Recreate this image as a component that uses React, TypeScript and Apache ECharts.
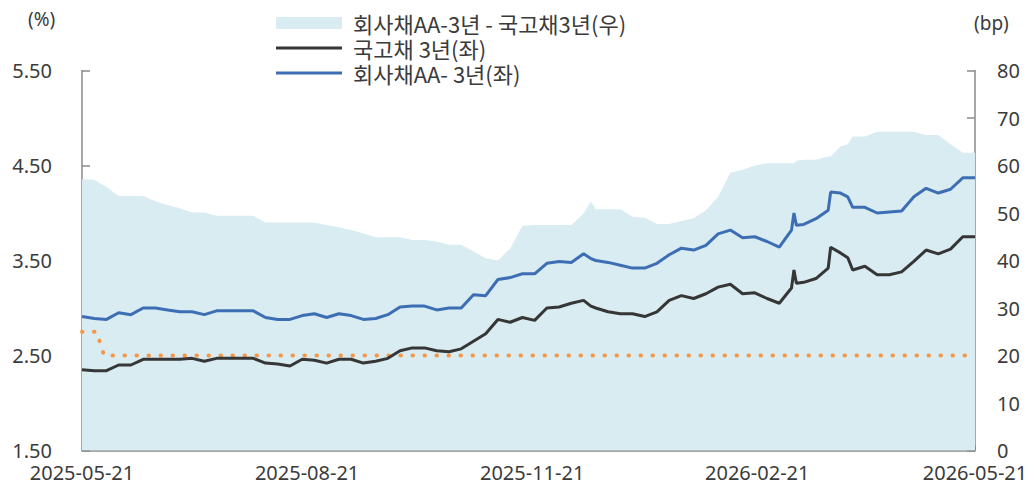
import React, { useEffect, useRef } from "react";
import * as echarts from "echarts";

// ---- data ----
const dates = [
  "2025-05-21", "2025-05-26", "2025-05-31", "2025-06-05", "2025-06-10", "2025-06-15", "2025-06-20", "2025-06-25",
  "2025-06-30", "2025-07-05", "2025-07-10", "2025-07-15", "2025-07-20", "2025-07-25", "2025-07-30", "2025-08-04",
  "2025-08-09", "2025-08-14", "2025-08-19", "2025-08-24", "2025-08-29", "2025-09-03", "2025-09-08", "2025-09-13",
  "2025-09-18", "2025-09-23", "2025-09-28", "2025-10-03", "2025-10-08", "2025-10-13", "2025-10-18", "2025-10-23",
  "2025-10-28", "2025-11-02", "2025-11-07", "2025-11-12", "2025-11-17", "2025-11-22", "2025-11-27", "2025-12-02",
  "2025-12-07", "2025-12-12", "2025-12-15", "2025-12-17", "2025-12-22", "2025-12-27", "2026-01-01", "2026-01-06",
  "2026-01-11", "2026-01-16", "2026-01-21", "2026-01-26", "2026-01-31", "2026-02-05", "2026-02-10", "2026-02-15",
  "2026-02-20", "2026-02-25", "2026-03-02", "2026-03-07", "2026-03-08", "2026-03-09", "2026-03-12", "2026-03-17",
  "2026-03-22", "2026-03-23", "2026-03-27", "2026-03-30", "2026-04-01", "2026-04-06", "2026-04-11", "2026-04-16",
  "2026-04-21", "2026-04-26", "2026-05-01", "2026-05-06", "2026-05-11", "2026-05-16", "2026-05-21",
];

// 국고채 3년 (%)
const ktb3y = [
  2.35, 2.34, 2.34, 2.40, 2.40, 2.46, 2.46, 2.46,
  2.46, 2.47, 2.44, 2.47, 2.47, 2.47, 2.47, 2.42,
  2.41, 2.39, 2.46, 2.45, 2.42, 2.46, 2.46, 2.42,
  2.44, 2.47, 2.55, 2.58, 2.58, 2.55, 2.54, 2.57,
  2.65, 2.73, 2.88, 2.85, 2.90, 2.87, 3.00, 3.01,
  3.05, 3.08, 3.02, 3.00, 2.96, 2.94, 2.94, 2.91,
  2.96, 3.08, 3.13, 3.10, 3.15, 3.22, 3.25, 3.15,
  3.16, 3.10, 3.05, 3.21, 3.40, 3.26, 3.27, 3.31,
  3.42, 3.64, 3.58, 3.53, 3.40, 3.44, 3.35, 3.35,
  3.38, 3.49, 3.61, 3.57, 3.62, 3.75, 3.75,
];

// 회사채AA- 3년 (%)
const corpAA3y = [
  2.91, 2.89, 2.88, 2.95, 2.93, 3.00, 3.00, 2.98,
  2.96, 2.96, 2.93, 2.97, 2.97, 2.97, 2.97, 2.90,
  2.88, 2.88, 2.92, 2.94, 2.90, 2.94, 2.92, 2.88,
  2.89, 2.93, 3.01, 3.02, 3.02, 2.98, 3.00, 3.00,
  3.14, 3.13, 3.30, 3.32, 3.36, 3.36, 3.47, 3.49,
  3.48, 3.57, 3.52, 3.50, 3.48, 3.45, 3.42, 3.42,
  3.47, 3.56, 3.63, 3.61, 3.66, 3.78, 3.82, 3.74,
  3.75, 3.70, 3.64, 3.82, 4.00, 3.87, 3.88, 3.94,
  4.03, 4.22, 4.21, 4.17, 4.06, 4.06, 4.00, 4.01,
  4.02, 4.17, 4.26, 4.21, 4.25, 4.37, 4.37,
];

// 회사채AA-3년 - 국고채3년 (bp)
const spreadBp = [
  57.1, 57.0, 55.5, 53.6, 53.6, 53.6, 52.5, 51.7,
  51.0, 50.1, 50.1, 49.4, 49.4, 49.4, 49.4, 48.0,
  48.0, 48.0, 48.0, 48.0, 47.5, 47.0, 46.4, 45.7,
  44.9, 44.9, 44.9, 44.3, 44.3, 44.0, 43.3, 43.3,
  41.9, 40.5, 40.0, 42.5, 47.3, 47.5, 47.5, 47.5,
  47.5, 49.9, 52.4, 50.8, 50.8, 50.8, 49.2, 49.0,
  47.7, 47.7, 48.3, 48.9, 50.6, 53.4, 58.5, 59.1,
  60.0, 60.5, 60.5, 60.5, 60.5, 61.0, 61.2, 61.2,
  61.9, 61.9, 64.0, 64.5, 66.1, 66.1, 67.1, 67.1,
  67.1, 67.1, 66.4, 66.4, 64.5, 62.7, 62.7,
];

// 기준금리 (%)
const baseRateDates = ["2025-05-21", "2025-05-27", "2025-05-30", "2026-05-21"];
const baseRate = [2.75, 2.75, 2.5, 2.5];

const xTickLabels = ["2025-05-21", "2025-08-21", "2025-11-21", "2026-02-21", "2026-05-21"];

const SPREAD_NAME = "회사채AA-3년 - 국고채3년(우)";
const KTB_NAME = "국고채 3년(좌)";
const CORP_NAME = "회사채AA- 3년(좌)";

function toTs(s: string): number {
  const [y, m, d] = s.split("-").map(Number);
  return new Date(y, m - 1, d).getTime();
}
function pad(n: number) {
  return n < 10 ? "0" + n : "" + n;
}
function fmtDate(v: number) {
  const d = new Date(v);
  return `${d.getFullYear()}-${pad(d.getMonth() + 1)}-${pad(d.getDate())}`;
}

const AXIS_COLOR = "#8a8a8a";
const TEXT_COLOR = "#3b3b3b";
const TICK_FONT = "'Noto Sans', 'Open Sans', sans-serif";
const KR_FONT = "'Noto Sans CJK KR', 'Noto Sans', sans-serif";
const LINE_ICON = "path://M0,0 L66,0 L66,3 L0,3 Z";

export default function App() {
  const ref = useRef<HTMLDivElement>(null);

  useEffect(() => {
    if (!ref.current) return;
    const chart = echarts.init(ref.current, undefined, { renderer: "svg" });
    const xs = dates.map(toTs);
    const tickTs = xTickLabels.map(toTs);

    const option: any = {
      animation: false,
      backgroundColor: "#ffffff",
      grid: { left: 82, right: 59, top: 70.5, bottom: 35.5, containLabel: false },
      legend: {
        orient: "vertical",
        left: 276,
        top: 10.5,
        padding: 0,
        itemWidth: 66,
        itemHeight: 12,
        itemGap: 0,
        selectedMode: false,
        textStyle: {
          color: TEXT_COLOR,
          fontSize: 22,
          lineHeight: 25,
          fontFamily: KR_FONT,
          padding: [0, 0, 0, 6],
        },
        data: [
          { name: SPREAD_NAME, icon: "rect" },
          { name: KTB_NAME, icon: LINE_ICON, itemStyle: { color: "#363636" } },
          { name: CORP_NAME, icon: LINE_ICON, itemStyle: { color: "#3d6eb4" } },
        ],
      },
      xAxis: {
        type: "value",
        min: tickTs[0],
        max: tickTs[tickTs.length - 1],
        axisLine: { show: true, lineStyle: { color: AXIS_COLOR, width: 1.5 } },
        axisTick: { show: true, inside: true, length: 5, customValues: tickTs, lineStyle: { color: AXIS_COLOR } },
        splitLine: { show: false },
        axisLabel: {
          customValues: tickTs,
          formatter: (v: number) => fmtDate(v),
          color: TEXT_COLOR,
          fontSize: 20,
          lineHeight: 20,
          fontFamily: TICK_FONT,
          margin: 12,
          hideOverlap: false,
          showMinLabel: true,
          showMaxLabel: true,
        },
      },
      yAxis: [
        {
          type: "value",
          min: 1.5,
          max: 5.5,
          interval: 1,
          position: "left",
          axisLine: { show: true, lineStyle: { color: AXIS_COLOR, width: 1.5 } },
          axisTick: { show: true, inside: true, length: 8, lineStyle: { color: AXIS_COLOR, width: 1.5 } },
          splitLine: { show: false },
          axisLabel: {
            formatter: (v: number) => v.toFixed(2),
            color: TEXT_COLOR,
            fontSize: 20,
            fontFamily: TICK_FONT,
            margin: 30,
          },
        },
        {
          type: "value",
          min: 0,
          max: 80,
          interval: 10,
          position: "right",
          axisLine: { show: true, lineStyle: { color: AXIS_COLOR, width: 1.5 } },
          axisTick: { show: true, inside: true, length: 8, lineStyle: { color: AXIS_COLOR, width: 1.5 } },
          splitLine: { show: false },
          axisLabel: {
            color: TEXT_COLOR,
            fontSize: 20,
            lineHeight: 18,
            fontFamily: TICK_FONT,
            margin: 22,
          },
        },
      ],
      graphic: [
        {
          type: "text",
          left: 28,
          top: 9,
          style: { text: "(%)", fill: TEXT_COLOR, font: `19px ${TICK_FONT}` },
        },
        {
          type: "text",
          left: 974,
          top: 13,
          style: { text: "(bp)", fill: TEXT_COLOR, font: `19px ${TICK_FONT}` },
        },
      ],
      series: [
        {
          name: SPREAD_NAME,
          type: "line",
          yAxisIndex: 1,
          data: xs.map((t, i) => [t, spreadBp[i]]),
          showSymbol: false,
          symbol: "none",
          itemStyle: { color: "#d8ecf2" },
          lineStyle: { width: 0, color: "#d8ecf2" },
          areaStyle: { color: "#d8ecf2", opacity: 1, origin: "start" },
          z: 1,
        },
        {
          name: "기준금리",
          type: "line",
          yAxisIndex: 0,
          data: baseRateDates.map((d, i) => [toTs(d), baseRate[i]]),
          showSymbol: false,
          symbol: "none",
          lineStyle: { color: "#f79646", width: 4, type: [0.5, 11.5], cap: "round" },
          z: 2,
        },
        {
          name: KTB_NAME,
          type: "line",
          yAxisIndex: 0,
          data: xs.map((t, i) => [t, ktb3y[i]]),
          showSymbol: false,
          symbol: "none",
          itemStyle: { color: "#363636" },
          lineStyle: { color: "#363636", width: 3 },
          z: 3,
        },
        {
          name: CORP_NAME,
          type: "line",
          yAxisIndex: 0,
          data: xs.map((t, i) => [t, corpAA3y[i]]),
          showSymbol: false,
          symbol: "none",
          itemStyle: { color: "#3d6eb4" },
          lineStyle: { color: "#3d6eb4", width: 3 },
          z: 4,
        },
      ],
    };
    chart.setOption(option);
    return () => chart.dispose();
  }, []);

  return (
    <div
      ref={ref}
      style={{ position: "fixed", left: 0, top: 0, width: 1034, height: 486, background: "#fff" }}
    />
  );
}
